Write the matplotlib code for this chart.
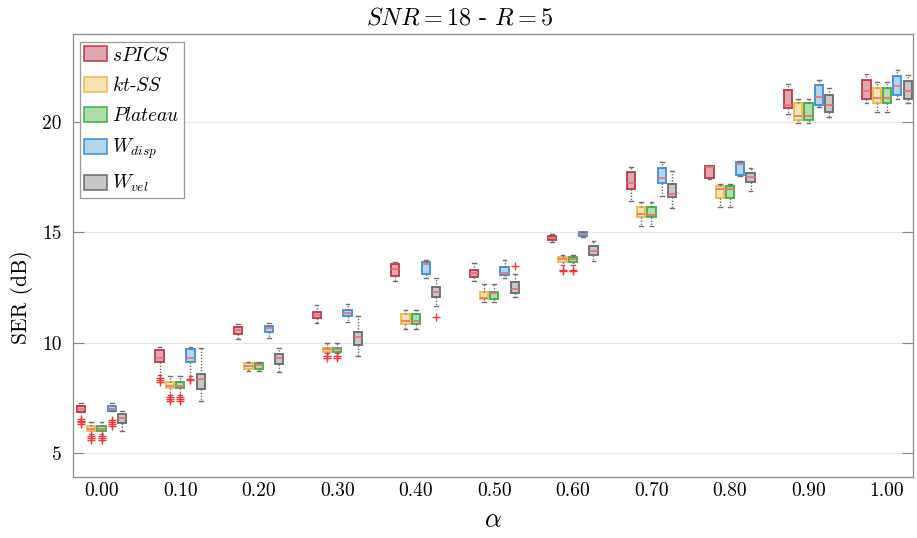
import matplotlib
matplotlib.use("Agg")
import matplotlib.pyplot as plt
from matplotlib.patches import Patch

plt.rcParams["font.family"] = ["cmr10", "DejaVu Serif"]
plt.rcParams["mathtext.fontset"] = "cm"
plt.rcParams["axes.formatter.use_mathtext"] = True

# data: per method, per alpha
ALPHAS = [0.0, 0.1, 0.2, 0.3, 0.4, 0.5, 0.6, 0.7, 0.8, 0.9, 1.0]
TICK_LABELS = ["0.00", "0.10", "0.20", "0.30", "0.40", "0.50",
               "0.60", "0.70", "0.80", "0.90", "1.00"]
METHODS = ["$sPICS$", "$kt$-$SS$", "$Plateau$", "$W_{disp}$", "$W_{vel}$"]

spics_q1 = [6.87, 9.11, 10.41, 11.10, 13.02, 12.96, 14.64, 16.98, 17.48, 20.62, 21.07]
spics_med = [7.00, 9.29, 10.58, 11.24, 13.35, 13.14, 14.76, 17.22, 17.98, 20.80, 21.40]
spics_q3 = [7.10, 9.64, 10.72, 11.40, 13.57, 13.29, 14.84, 17.72, 18.01, 21.48, 21.93]
spics_lo = [6.85, 8.54, 10.18, 10.88, 12.81, 12.80, 14.58, 16.42, 17.40, 20.39, 20.88]
spics_hi = [7.28, 9.78, 10.85, 11.71, 13.64, 13.62, 14.94, 17.98, 18.05, 21.71, 22.17]
spics_out = [[6.52, 6.45, 6.38, 6.30], [8.40, 8.32, 8.22], [], [], [], [], [], [], [], [], []]

ktss_q1 = [5.97, 7.92, 8.78, 9.59, 10.85, 11.97, 13.64, 15.71, 16.54, 20.08, 20.85]
ktss_med = [6.10, 8.05, 8.94, 9.70, 10.98, 12.04, 13.78, 15.83, 16.96, 20.27, 21.10]
ktss_q3 = [6.21, 8.19, 9.07, 9.77, 11.29, 12.31, 13.87, 16.13, 17.10, 20.85, 21.53]
ktss_lo = [5.86, 7.60, 8.69, 9.52, 10.63, 11.83, 13.52, 15.29, 16.16, 19.97, 20.47]
ktss_hi = [6.38, 8.46, 9.14, 9.96, 11.48, 12.65, 13.97, 16.39, 17.20, 21.03, 21.81]
ktss_out = [[5.75, 5.68, 5.60], [7.55, 7.45, 7.35], [], [9.37, 9.30], [], [],
            [13.31, 13.24], [], [], [], []]

plat_q1 = [5.97, 7.92, 8.78, 9.59, 10.85, 11.97, 13.64, 15.71, 16.54, 20.08, 20.85]
plat_med = [6.10, 8.05, 8.97, 9.70, 11.00, 12.24, 13.78, 15.80, 16.96, 20.27, 21.10]
plat_q3 = [6.21, 8.19, 9.07, 9.77, 11.29, 12.31, 13.87, 16.13, 17.10, 20.85, 21.53]
plat_lo = [5.86, 7.60, 8.69, 9.52, 10.63, 11.83, 13.52, 15.29, 16.16, 19.97, 20.47]
plat_hi = [6.38, 8.46, 9.14, 9.96, 11.48, 12.65, 13.97, 16.39, 17.20, 21.03, 21.81]
plat_out = [[5.75, 5.68, 5.60], [7.55, 7.45, 7.35], [], [9.37, 9.30], [], [],
            [13.31, 13.24], [], [], [], []]

wdisp_q1 = [6.90, 9.11, 10.50, 11.22, 13.11, 13.05, 14.85, 17.22, 17.60, 20.80, 21.22]
wdisp_med = [7.00, 9.29, 10.65, 11.36, 13.57, 13.14, 14.93, 17.45, 18.08, 21.12, 21.63]
wdisp_q3 = [7.10, 9.70, 10.76, 11.48, 13.66, 13.42, 15.00, 17.90, 18.17, 21.68, 22.08]
wdisp_lo = [6.88, 8.46, 10.20, 10.92, 12.92, 12.95, 14.80, 16.65, 17.57, 20.68, 21.03]
wdisp_hi = [7.28, 9.78, 10.88, 11.74, 13.75, 13.75, 15.03, 18.17, 18.26, 21.92, 22.36]
wdisp_out = [[6.50, 6.40, 6.30, 6.22], [8.35, 8.28], [], [], [], [], [], [], [], [], []]

wvel_q1 = [6.35, 7.89, 9.02, 9.90, 12.06, 12.27, 13.97, 16.59, 17.30, 20.47, 21.06]
wvel_med = [6.57, 8.34, 9.29, 10.23, 12.30, 12.43, 14.17, 16.74, 17.50, 20.78, 21.40]
wvel_q3 = [6.77, 8.58, 9.49, 10.49, 12.54, 12.74, 14.38, 17.18, 17.68, 21.22, 21.87]
wvel_lo = [5.97, 7.33, 8.66, 9.41, 11.66, 12.06, 13.70, 16.12, 16.87, 20.24, 20.88]
wvel_hi = [6.89, 9.75, 9.75, 11.22, 12.95, 13.11, 14.61, 17.78, 17.90, 21.55, 22.16]
wvel_out = [[], [], [], [], [11.15], [13.48], [], [], [], [], []]

SERIES = [
    (spics_q1, spics_med, spics_q3, spics_lo, spics_hi, spics_out),
    (ktss_q1, ktss_med, ktss_q3, ktss_lo, ktss_hi, ktss_out),
    (plat_q1, plat_med, plat_q3, plat_lo, plat_hi, plat_out),
    (wdisp_q1, wdisp_med, wdisp_q3, wdisp_lo, wdisp_hi, wdisp_out),
    (wvel_q1, wvel_med, wvel_q3, wvel_lo, wvel_hi, wvel_out),
]

EDGE = ["#b8283f", "#f0b23a", "#2fa836", "#2f86d0", "#5e5e5e"]
FACE = ["#dc97a3", "#f9dfaa", "#a3d89c", "#a6cfeb", "#bdbdbd"]

OFFSET = 0.0131
WIDTH = 0.0105

fig = plt.figure(figsize=(9.17, 5.38), dpi=100)
ax = fig.add_axes([72.5 / 917, 1 - 477 / 538, (913 - 72.5) / 917, (477 - 34) / 538])

for k, (q1, med, q3, lo, hi, out) in enumerate(SERIES):
    stats = []
    for i in range(len(ALPHAS)):
        stats.append(dict(med=med[i], q1=q1[i], q3=q3[i], whislo=lo[i],
                          whishi=hi[i], fliers=out[i]))
    pos = [a + (k - 2) * OFFSET for a in ALPHAS]
    ax.bxp(stats, positions=pos, widths=WIDTH, patch_artist=True,
           showfliers=True, manage_ticks=False, capwidths=WIDTH * 0.45,
           boxprops=dict(facecolor=FACE[k], edgecolor=EDGE[k], linewidth=1.4, alpha=0.85),
           medianprops=dict(color="#e8706f", linewidth=1.2),
           whiskerprops=dict(color="#6e6e6e", linestyle=(0, (1, 1.2)), linewidth=1.0),
           capprops=dict(color="#6e6e6e", linewidth=1.0),
           flierprops=dict(marker="+", markeredgecolor="#f0383c", markersize=5.5,
                           markeredgewidth=1.0, linestyle="none"))

ax.set_xlim(-0.037, 1.033)
ax.set_ylim(3.9, 24.0)
ax.set_xticks(ALPHAS)
ax.set_xticklabels(TICK_LABELS, fontsize=14)
ax.set_yticks([5, 10, 15, 20])
ax.set_yticklabels(["5", "10", "15", "20"], fontsize=14)
ax.tick_params(axis="x", length=0, pad=4)
ax.tick_params(axis="y", direction="in", length=8, color="#8a8a8a",
               right=True, left=True, pad=8)
ax.yaxis.grid(True, color="#e8e8e8", linewidth=0.9)
ax.set_axisbelow(True)
for s in ax.spines.values():
    s.set_color("#8a8a8a")
    s.set_linewidth(0.9)

ax.set_ylabel("SER (dB)", fontsize=15.5)
ax.yaxis.set_label_coords(-0.047, 0.405)
ax.set_xlabel(r"$\alpha$", fontsize=19, labelpad=6)
ax.set_title(r"$SNR = 18$ - $R = 5$", fontsize=17.5, pad=7, x=0.461)

handles = [Patch(facecolor=FACE[k], edgecolor=EDGE[k], linewidth=1.2, alpha=0.85)
           for k in range(len(METHODS))]
leg = ax.legend(handles, METHODS, loc="upper left", fontsize=14,
                handlelength=1.2, handleheight=0.8, labelspacing=0.6,
                handletextpad=0.25, borderpad=0.2, borderaxespad=0.4,
                fancybox=False, framealpha=1.0, edgecolor="#9a9a9a")
leg.get_frame().set_linewidth(0.9)

fig.savefig("out.png", dpi=100)
